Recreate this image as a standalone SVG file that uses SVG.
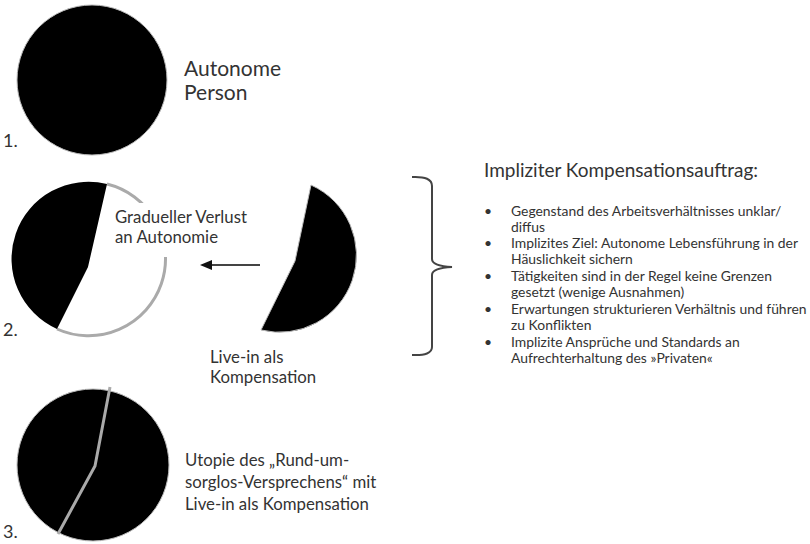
<svg xmlns="http://www.w3.org/2000/svg" width="810" height="544" viewBox="0 0 810 544">
<style>
text{font-family:Lato,"Open Sans","Liberation Sans",sans-serif;fill:#333}
.lbl{font-size:16.8px}
.num{font-size:18px}
.big{font-size:21px}
.title{font-size:19px}
.item{font-size:13.9px}
.rim{fill:none;stroke:#aaa;stroke-width:3}
.solid{fill:#000;stroke:#bbb;stroke-width:1}
</style>
<defs>
<marker id="ah" viewBox="0 0 12 10" refX="0" refY="5" markerWidth="12" markerHeight="10" markerUnits="userSpaceOnUse" orient="auto">
<path d="M0,0 L12,5 L0,10 Z" fill="#111"/>
</marker>
</defs>
<rect width="810" height="544" fill="#fff"/>

<g id="stage1">
<circle cx="92" cy="80" r="75" class="solid"/>
<text class="num" x="3" y="147">1.</text>
<text class="big" x="184" y="76">Autonome</text>
<text class="big" x="184" y="100">Person</text>
</g>

<g id="stage2">
<path d="M107,184 A77,77 0 1,1 57,329" class="rim"/>
<path d="M107,184 A77,77 0 0,0 57,329 L88,267 Z" fill="#000"/>
<rect x="112" y="203" width="140" height="54" fill="#fff"/>
<text class="num" x="3" y="336">2.</text>
<text class="lbl" x="115" y="223">Gradueller Verlust</text>
<text class="lbl" x="115" y="243">an Autonomie</text>
</g>

<g id="livein">
<path d="M311,185 A77,77 0 0,1 261,330 L295,261 Z" class="solid"/>
<text class="lbl" x="210" y="363">Live-in als</text>
<text class="lbl" x="210" y="383">Kompensation</text>
</g>

<g id="stage3">
<circle cx="93" cy="465" r="76" class="solid"/>
<path d="M110,387 L95,466 L58,534" fill="none" stroke="#aaa" stroke-width="3"/>
<text class="num" x="3" y="538">3.</text>
<text class="lbl" x="185" y="466">Utopie des „Rund-um-</text>
<text class="lbl" x="185" y="488">sorglos-Versprechens“ mit</text>
<text class="lbl" x="185" y="510">Live-in als Kompensation</text>
</g>

<g id="connectors">
<line x1="260" y1="265" x2="212" y2="265" stroke="#444" stroke-width="2" marker-end="url(#ah)"/>
<path d="M412,177 Q432,176 432,186 L432,259 Q432,266 452,267 Q432,268 432,275 L432,347 Q432,356 412,355" fill="none" stroke="#444" stroke-width="2"/>
</g>

<g id="task">
<text class="title" x="484" y="177">Impliziter Kompensationsauftrag:</text>
<text class="item" x="484" y="216">•</text>
<text class="item" x="511" y="216">Gegenstand des Arbeitsverhältnisses unklar/</text>
<text class="item" x="511" y="232">diffus</text>
<text class="item" x="484" y="248">•</text>
<text class="item" x="511" y="248">Implizites Ziel: Autonome Lebensführung in der</text>
<text class="item" x="511" y="264">Häuslichkeit sichern</text>
<text class="item" x="484" y="281">•</text>
<text class="item" x="511" y="281">Tätigkeiten sind in der Regel keine Grenzen</text>
<text class="item" x="511" y="297">gesetzt (wenige Ausnahmen)</text>
<text class="item" x="484" y="314">•</text>
<text class="item" x="511" y="314">Erwartungen strukturieren Verhältnis und führen</text>
<text class="item" x="511" y="330">zu Konflikten</text>
<text class="item" x="484" y="347">•</text>
<text class="item" x="511" y="347">Implizite Ansprüche und Standards an</text>
<text class="item" x="511" y="363">Aufrechterhaltung des »Privaten«</text>
</g>
</svg>
